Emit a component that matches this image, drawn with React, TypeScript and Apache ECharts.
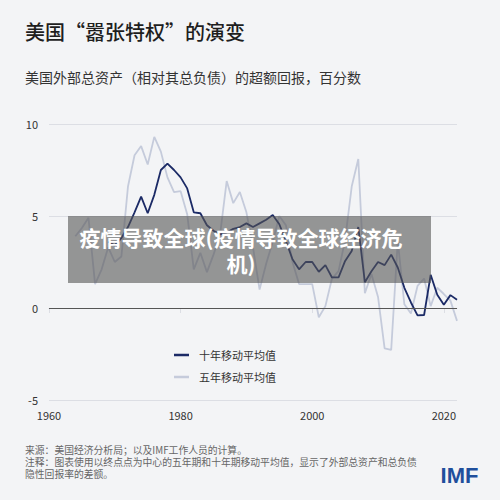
import React, { useEffect, useRef } from "react";
import * as echarts from "echarts";

const TEN_START = 1969;
const tenYear = [
  3.6, 3.4, 3.8, 4.4, 5.2, 6.05, 5.15, 6.15, 7.5, 7.85,
  7.5, 7.1, 6.5, 5.2, 5.15, 4.5, 4.2, 4.0, 4.1, 4.3,
  4.4, 4.6, 4.4, 4.6, 4.8, 5.05, 4.55, 3.65, 2.65, 2.1,
  2.5, 2.5, 1.97, 2.33, 1.66, 1.66, 2.56, 3.1, 4.4, 1.4,
  2.0, 2.5, 2.33, 2.9, 2.2, 1.1, 0.3, -0.4, -0.38, 1.8,
  0.72, 0.18, 0.7, 0.45,
];

const FIVE_START = 1964;
const fiveYear = [
  3.9, 4.35, 4.9, 1.3, 2.1, 3.3, 2.5, 2.8, 6.6, 8.3,
  8.8, 7.8, 9.3, 8.5, 7.1, 6.3, 6.35, 5.1, 2.1, 3.0,
  1.95, 2.9, 4.0, 6.9, 5.7, 6.3, 5.2, 3.3, 1.0, 2.4,
  3.6, 5.0, 4.5, 2.5, 1.3, 1.3, 1.3, -0.5, 0.1, 1.6,
  2.0, 3.7, 6.6, 8.1, 0.8, 1.85, 0.6, -2.2, -2.28, 3.65,
  0.2, -0.3, 1.2, 1.6, 0.1, 1.1, 0.76, 0.4, -0.7,
];

const seriesNames = ["十年移动平均值", "五年移动平均值"];
const title = "美国“嚣张特权”的演变";
const subtitle = "美国外部总资产（相对其总负债）的超额回报，百分数";
const footnotes = [
  "来源：美国经济分析局；以及IMF工作人员的计算。",
  "注释：图表使用以终点点为中心的五年期和十年期移动平均值，显示了外部总资产和总负债",
  "隐性回报率的差额。",
];
const bannerLines = ["疫情导致全球(疫情导致全球经济危", "机)"];

const FONT = "'Noto Sans CJK SC', 'Noto Sans', sans-serif";

export default function App() {
  const ref = useRef<HTMLDivElement>(null);
  useEffect(() => {
    if (!ref.current) return;
    const chart = echarts.init(ref.current, null, { renderer: "svg" });
    const tenData = tenYear.map((v, i) => [TEN_START + i, v]);
    const fiveData = fiveYear.map((v, i) => [FIVE_START + i, v]);
    chart.setOption({
      animation: false,
      backgroundColor: "#f3f4f6",
      textStyle: { fontFamily: FONT },
      grid: { left: 49, right: 43, top: 124, bottom: 100 },
      xAxis: {
        type: "value",
        min: 1960,
        max: 2022,
        interval: 20,
        axisLine: { show: true, lineStyle: { color: "#dcdee4", width: 1 } },
        axisTick: { show: true, length: 5, lineStyle: { color: "#dcdee4" } },
        axisLabel: {
          color: "#333",
          fontSize: 11,
          margin: 9,
          showMaxLabel: false,
          formatter: (v: number) => String(v),
        },
        splitLine: { show: false },
      },
      yAxis: {
        type: "value",
        min: -5,
        max: 10,
        interval: 5,
        axisLine: { show: false },
        axisTick: { show: false },
        axisLabel: { color: "#333", fontSize: 11, margin: 11 },
        splitLine: { lineStyle: { color: "#dcdee4", width: 1 } },
      },
      legend: {
        orient: "vertical",
        left: 169,
        top: 343,
        icon: "rect",
        itemWidth: 15,
        itemHeight: 2.5,
        itemGap: 8,
        data: seriesNames,
        textStyle: {
          fontSize: 11,
          color: "#333",
          lineHeight: 14,
          padding: [0, 0, 0, 5],
          fontFamily: FONT,
        },
      },
      series: [
        {
          name: seriesNames[1],
          type: "line",
          data: fiveData,
          showSymbol: false,
          symbol: "none",
          lineStyle: { color: "#c5cbdb", width: 1.8 },
          itemStyle: { color: "#c5cbdb" },
          z: 2,
          markLine: {
            silent: true,
            symbol: "none",
            label: { show: false },
            lineStyle: { color: "#555", width: 1.2, type: "solid" },
            data: [{ yAxis: 0 }],
          },
        },
        {
          name: seriesNames[0],
          type: "line",
          data: tenData,
          showSymbol: false,
          symbol: "none",
          lineStyle: { color: "#1b2a66", width: 1.8 },
          itemStyle: { color: "#1b2a66" },
          z: 3,
        },
      ],
      graphic: [
        {
          type: "text",
          x: 25,
          y: 31,
          style: {
            text: title,
            fontSize: 20,
            fontWeight: 500,
            fill: "#1e1e1e",
            fontFamily: FONT,
            textVerticalAlign: "middle",
          },
        },
        {
          type: "text",
          x: 25,
          y: 77,
          style: {
            text: subtitle,
            fontSize: 14,
            fill: "#333",
            fontFamily: FONT,
            textVerticalAlign: "middle",
          },
        },
        {
          type: "text",
          x: 25,
          y: 444,
          style: {
            text: footnotes.join("\n"),
            fontSize: 9.8,
            lineHeight: 12,
            fill: "#666",
            fontFamily: FONT,
          },
        },
        {
          type: "text",
          x: 459.5,
          y: 475,
          style: {
            text: "IMF",
            fontSize: 22,
            fontWeight: "bold",
            fill: "#1f4f9c",
            fontFamily: "'Liberation Sans', Arial, sans-serif",
            textAlign: "center",
            textVerticalAlign: "middle",
          },
        },
        {
          type: "rect",
          z: 100,
          shape: { x: 68, y: 216, width: 363, height: 67 },
          style: { fill: "rgba(85,85,85,0.6)" },
        },
        {
          type: "text",
          z: 101,
          x: 241,
          y: 249.5,
          style: {
            text: bannerLines.join("\n"),
            fontSize: 21,
            lineHeight: 26,
            fontWeight: "bold",
            fill: "#ffffff",
            fontFamily: FONT,
            textAlign: "center",
            textVerticalAlign: "middle",
          },
        },
      ],
    });
    return () => chart.dispose();
  }, []);
  return (
    <div
      ref={ref}
      style={{ position: "fixed", left: 0, top: 0, width: 500, height: 500 }}
    />
  );
}
